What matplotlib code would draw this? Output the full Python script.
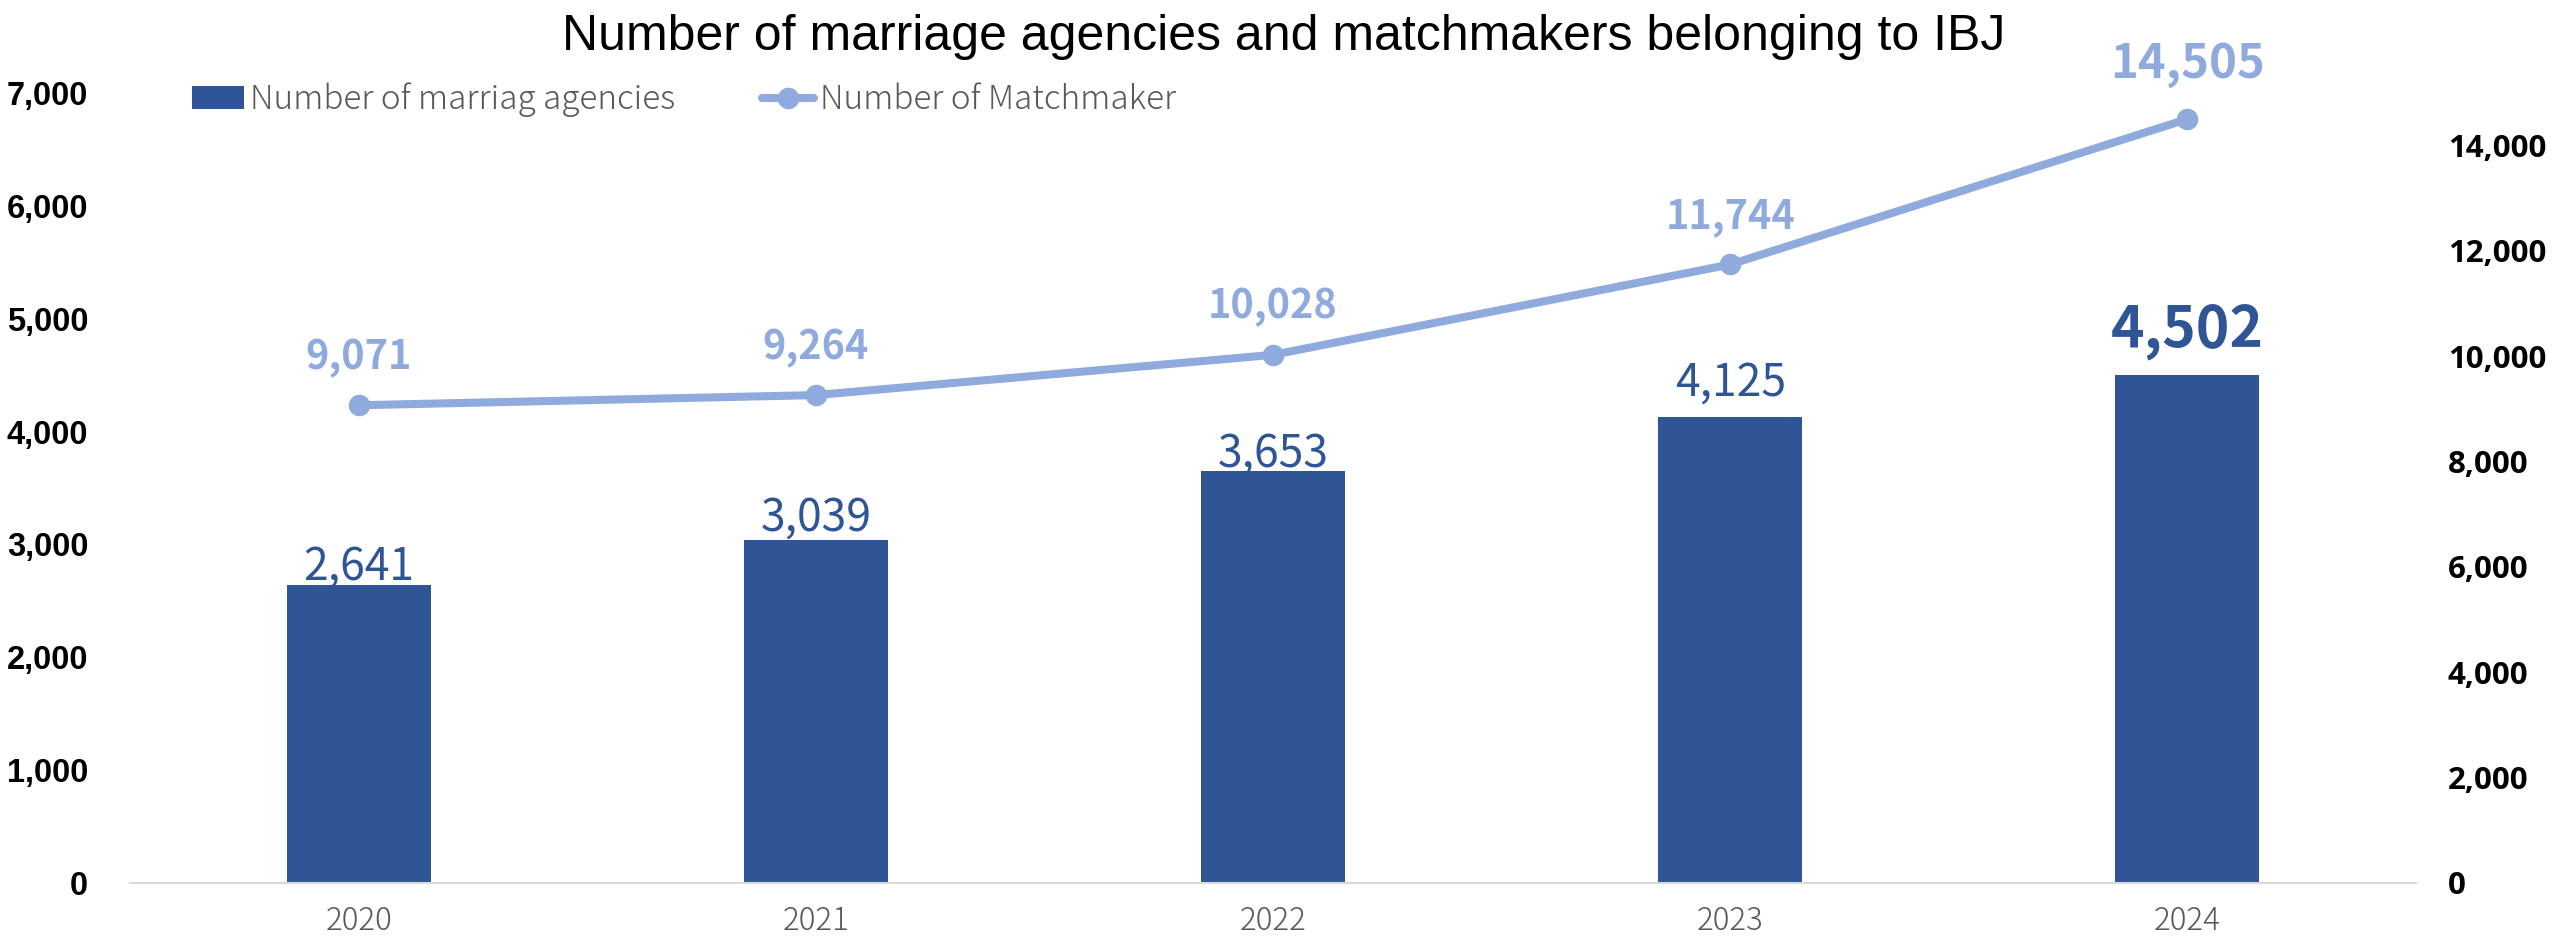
import matplotlib
matplotlib.use("Agg")
import matplotlib.pyplot as plt
from matplotlib.ticker import FuncFormatter, FixedLocator
from matplotlib.lines import Line2D
from matplotlib.patches import Patch

# ---- data ----
years = ["2020", "2021", "2022", "2023", "2024"]
agencies = [2641, 3039, 3653, 4125, 4502]
matchmakers = [9071, 9264, 10028, 11744, 14505]
left_ticks = [0, 1000, 2000, 3000, 4000, 5000, 6000, 7000]
right_ticks = [0, 2000, 4000, 6000, 8000, 10000, 12000, 14000]
title = "Number of marriage agencies and matchmakers belonging to IBJ"
legend_labels = ["Number of marriag agencies", "Number of Matchmaker"]

# ---- style ----
BAR = "#2F5597"
LINE = "#8FAADC"
GRAY = "#595959"
JP = ["Noto Sans CJK JP", "DejaVu Sans"]

W, H, DPI = 2554, 941, 100
fig = plt.figure(figsize=(W / DPI, H / DPI), dpi=DPI)
L, R, T, B = 130, 2416, 93, 883
ax = fig.add_axes([L / W, (H - B) / H, (R - L) / W, (B - T) / H])
ax2 = ax.twinx()

x = list(range(len(years)))
ax.bar(x, agencies, width=0.315, color=BAR, zorder=2)
ax.set_xlim(-0.5, len(years) - 0.5)
ax.set_ylim(0, 7000)
ax2.set_ylim(0, 15000)

ax2.plot(x, matchmakers, color=LINE, lw=5.8, marker="o", ms=14.5,
         solid_capstyle="round", zorder=3)

fmt = FuncFormatter(lambda v, p: f"{int(v):,}")
ax.yaxis.set_major_locator(FixedLocator(left_ticks))
ax.yaxis.set_major_formatter(fmt)
ax2.yaxis.set_major_locator(FixedLocator(right_ticks))
ax2.yaxis.set_major_formatter(fmt)

ax.set_xticks(x)
ax.set_xticklabels(years)
for t in ax.get_xticklabels():
    t.set_family(JP)
    t.set_fontsize(22.5)
    t.set_color(GRAY)
    t.set_fontweight("light")
for t in ax.get_yticklabels():
    t.set_family("Liberation Sans")
    t.set_fontsize(23.5)
    t.set_fontweight("bold")
for t in ax2.get_yticklabels():
    t.set_family("Open Sans")
    t.set_fontsize(22.5)
    t.set_fontweight("bold")

ax.tick_params(axis="x", length=0, pad=16)
ax.tick_params(axis="y", length=0, pad=30)
ax2.tick_params(axis="y", length=0, pad=23)

for a in (ax, ax2):
    for s in ("top", "left", "right", "bottom"):
        a.spines[s].set_visible(False)
ax.spines["bottom"].set_visible(True)
ax.spines["bottom"].set_color("#D9D9D9")
ax.spines["bottom"].set_linewidth(1.5)

# bar value labels
bar_gap = [4, 7, 3, 16, 20]  # points above bar top
for i, (xi, v) in enumerate(zip(x, agencies)):
    last = i == len(x) - 1
    ax.annotate(f"{v:,}", (xi, v), xytext=(0, bar_gap[i]), textcoords="offset points",
                ha="center", va="baseline", color=BAR, family=JP,
                fontsize=41 if last else 32,
                fontweight="bold" if last else "normal")

# line value labels
for i, (xi, v) in enumerate(zip(x, matchmakers)):
    last = i == len(x) - 1
    ax2.annotate(f"{v:,}", (xi, v), xytext=(0, 30 if last else 26), textcoords="offset points",
                 ha="center", va="baseline", color=LINE, family=JP,
                 fontsize=34 if last else 28.5, fontweight="bold")

fig.text(1284 / W, (H - 50) / H, title, ha="center", va="baseline",
         family="Liberation Sans", fontsize=36, color="black")

# legend
handles = [Patch(facecolor=BAR, edgecolor="none"),
           Line2D([0], [0], color=LINE, lw=5.8, marker="o", ms=14.5, solid_capstyle="round")]
leg = fig.legend(handles, legend_labels, loc="center left",
                 bbox_to_anchor=(192 / W, (H - 100) / H), ncol=2, frameon=False,
                 prop={"family": JP, "size": 24, "weight": "light"},
                 handlelength=1.55, handletextpad=0.2, columnspacing=2.6,
                 borderaxespad=0, borderpad=0)
for t in leg.get_texts():
    t.set_color(GRAY)

fig.savefig("out.png", dpi=DPI, facecolor="white")
